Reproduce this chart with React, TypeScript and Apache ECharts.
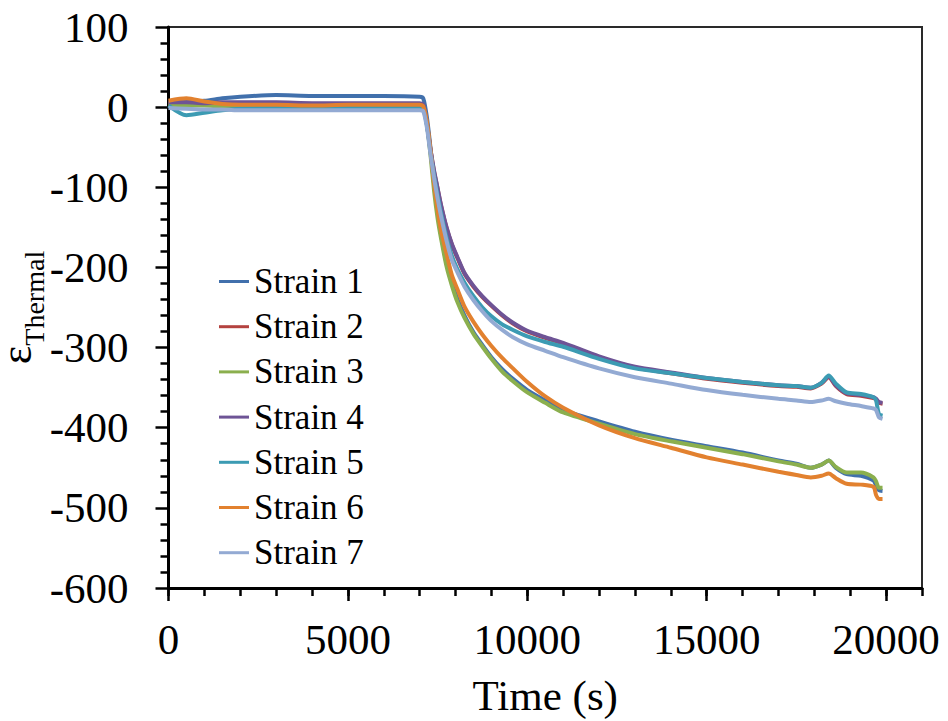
import React, { useEffect, useRef } from "react";
import * as echarts from "echarts";

const times = [0, 500, 1000, 1500, 2000, 3000, 4000, 5000, 6000, 7000, 7100, 7200, 7300, 7400, 7500, 7600, 7750, 7900, 8050, 8250, 8500, 8750, 9000, 9300, 9600, 10000, 10500, 11000, 12000, 13000, 14000, 15000, 16000, 17000, 17500, 17900, 18200, 18400, 18600, 18900, 19300, 19650, 19720, 19800, 19900];

const strain1 = [5, 7, 8, 11, 13, 15, 14, 14, 14, 13, 11, -12, -50, -95, -132, -160, -195, -219, -239, -260, -281, -297, -312, -327, -339, -353, -366, -378, -392, -405, -415, -423, -431, -441, -445, -450, -446, -441, -450, -458, -460, -466, -472, -478, -479];
const strain2 = [4, 4, 4, 4, 4, 4, 4, 4, 4, 4, 2, -21, -53, -80, -102, -124, -151, -172, -188, -208, -224, -237, -248, -260, -270, -280, -288, -295, -312, -325, -332, -339, -344, -348, -349, -351, -345, -337, -348, -358, -360, -363, -365, -369, -370];
const strain3 = [3, 2, 2, 1, 1, 2, 2, 2, 2, 2, -2, -20, -59, -104, -139, -165, -199, -223, -243, -263, -283, -299, -314, -330, -342, -356, -369, -381, -395, -408, -417, -425, -433, -442, -446, -450, -446, -441, -449, -456, -456, -462, -467, -475, -475];
const strain4 = [6, 6, 5, 6, 6, 6, 5, 5, 5, 5, 3, -20, -52, -79, -101, -123, -150, -171, -187, -207, -223, -236, -247, -259, -269, -279, -287, -294, -311, -324, -331, -338, -343, -347, -348, -350, -344, -336, -347, -357, -359, -362, -364, -368, -369];
const strain5 = [2, -10, -7, -4, -2, -1, -1, -1, -1, -1, -2, -22, -55, -85, -110, -133, -163, -186, -202, -219, -236, -250, -261, -271, -278, -286, -293, -299, -314, -326, -332, -338, -343, -347, -348, -350, -344, -335, -345, -356, -358, -362, -366, -383, -385];
const strain6 = [8, 11, 7, 4, 3, 3, 2, 3, 3, 3, 1, -18, -53, -95, -128, -155, -183, -210, -227, -249, -268, -284, -298, -313, -326, -343, -361, -375, -397, -413, -425, -437, -446, -455, -459, -462, -460, -457, -463, -470, -471, -474, -484, -489, -489];
const strain7 = [-1, -2, -3, -3, -4, -4, -4, -4, -4, -4, -5, -25, -58, -88, -114, -137, -167, -191, -206, -224, -241, -255, -267, -278, -287, -296, -304, -312, -326, -337, -345, -353, -359, -364, -366, -368, -366, -364, -367, -370, -373, -376, -378, -387, -389];

const seriesNames = ["Strain 1", "Strain 2", "Strain 3", "Strain 4", "Strain 5", "Strain 6", "Strain 7"];
const seriesValues = [strain1, strain2, strain3, strain4, strain5, strain6, strain7];
const seriesColors = ["#4170AC", "#B4423F", "#8BAF4E", "#6E5496", "#3C9BB3", "#E2812F", "#93AAD3"];

const FONT = "Liberation Serif, Times New Roman, serif";

export default function App() {
  const ref = useRef<HTMLDivElement>(null);
  useEffect(() => {
    document.body.style.margin = "0";
    const chart = echarts.init(ref.current!, null, { renderer: "svg" });
    const gridLeft = 168.5;
    const gridTop = 27;
    const gridW = 753.5;
    const gridH = 561;
    chart.setOption({
      animation: false,
      backgroundColor: "#ffffff",
      grid: [
        { left: gridLeft, top: gridTop, width: gridW, height: gridH, show: true, borderColor: "#2a2a2a", borderWidth: 2, backgroundColor: "transparent", containLabel: false, outerBoundsMode: "none" },
        { left: gridLeft, top: gridTop, width: (gridW * 20) / 21, height: gridH, show: false, containLabel: false, outerBoundsMode: "none" },
      ],
      legend: {
        orient: "vertical",
        left: 219,
        top: 264,
        padding: 0,
        icon: "rect",
        itemWidth: 30,
        itemHeight: 3,
        itemGap: 10.2,
        selectedMode: false,
        data: seriesNames,
        textStyle: { fontFamily: FONT, fontSize: 35, color: "#000", lineHeight: 35 },
      },
      xAxis: [
        {
          type: "value",
          gridIndex: 0,
          min: 0,
          max: 21000,
          interval: 1000,
          axisLine: { show: true, onZero: false, lineStyle: { color: "#000", width: 3 } },
          axisTick: { show: true, length: 8, lineStyle: { color: "#000", width: 2.5 } },
          axisLabel: { show: false },
          splitLine: { show: false },
          name: "Time (s)",
          nameLocation: "middle",
          nameGap: 86,
          nameMoveOverlap: false,
          nameTextStyle: { fontFamily: FONT, fontSize: 43, color: "#000" },
        },
        {
          type: "value",
          gridIndex: 1,
          min: 0,
          max: 20000,
          interval: 5000,
          axisLine: { show: false, onZero: false },
          axisTick: { show: true, length: 13, lineStyle: { color: "#000", width: 2.5 } },
          axisLabel: { show: true, margin: 30, fontFamily: FONT, fontSize: 43, color: "#000", formatter: (v: number) => String(v) },
          splitLine: { show: false },
        },
      ],
      yAxis: [
        {
          type: "value",
          gridIndex: 0,
          min: -600,
          max: 100,
          interval: 100,
          axisLine: { show: true, onZero: false, lineStyle: { color: "#000", width: 3 } },
          axisTick: { show: true, length: 13, lineStyle: { color: "#000", width: 2.5 } },
          minorTick: { show: true, splitNumber: 5, length: 8, lineStyle: { color: "#000", width: 2.5 } },
          axisLabel: { show: true, margin: 40, fontFamily: FONT, fontSize: 43, color: "#000", formatter: (v: number) => String(v) },
          splitLine: { show: false },
          name: "{e|ε}{s|Thermal}",
          nameLocation: "middle",
          nameRotate: 90,
          nameGap: 130,
          nameMoveOverlap: false,
          nameTextStyle: {
            color: "#000",
            rich: {
              e: { fontFamily: FONT, fontSize: 44, lineHeight: 44, color: "#000" },
              s: { fontFamily: FONT, fontSize: 28, lineHeight: 28, color: "#000", padding: [36, 0, 0, 0] },
            },
          },
        },
        { type: "value", gridIndex: 1, min: -600, max: 100, show: false },
      ],
      series: seriesNames.map((name, k) => ({
        name,
        type: "line",
        xAxisIndex: 0,
        yAxisIndex: 0,
        showSymbol: false,
        symbol: "none",
        smooth: 0.25,
        color: seriesColors[k],
        lineStyle: { width: 4, color: seriesColors[k] },
        data: times.map((t, i) => [t, seriesValues[k][i]]),
      })),
    });
    return () => chart.dispose();
  }, []);
  return <div ref={ref} style={{ width: 948, height: 721 }} />;
}
